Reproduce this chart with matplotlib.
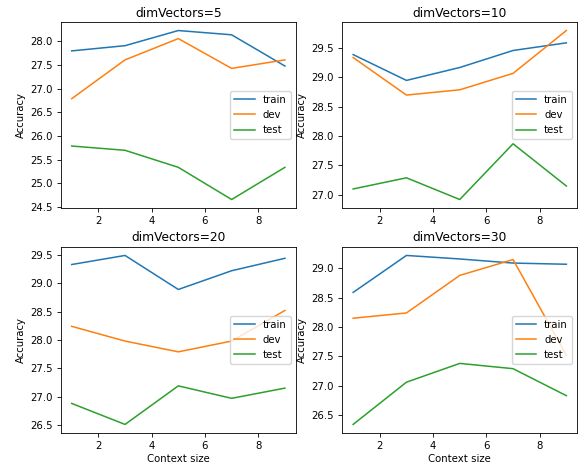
import matplotlib
matplotlib.use("Agg")
from matplotlib import pyplot as plt
from matplotlib.ticker import MultipleLocator, FormatStrFormatter

context_sizes = [1, 3, 5, 7, 9]
dim_vectors = [5, 10, 20, 30]

train_acc = [
    [27.80, 27.91, 28.23, 28.14, 27.48],
    [29.39, 28.95, 29.17, 29.46, 29.59],
    [29.33, 29.49, 28.89, 29.22, 29.44],
    [28.59, 29.22, 29.16, 29.09, 29.07],
]
dev_acc = [
    [26.79, 27.61, 28.06, 27.43, 27.61],
    [29.34, 28.70, 28.79, 29.07, 29.80],
    [28.24, 27.98, 27.79, 27.98, 28.52],
    [28.15, 28.24, 28.88, 29.15, 27.52],
]
test_acc = [
    [25.79, 25.70, 25.34, 24.66, 25.34],
    [27.10, 27.29, 26.92, 27.87, 27.15],
    [26.88, 26.51, 27.19, 26.97, 27.15],
    [26.34, 27.06, 27.38, 27.29, 26.83],
]

small = 7.3
plt.rcParams.update({
    "font.size": small,
    "axes.titlesize": 8.8,
    "axes.labelsize": small,
    "xtick.labelsize": small,
    "ytick.labelsize": small,
    "legend.fontsize": small,
    "xtick.major.size": 2.6,
    "ytick.major.size": 2.6,
    "xtick.major.width": 0.6,
    "ytick.major.width": 0.6,
    "axes.linewidth": 0.6,
    "lines.linewidth": 1.1,
})

fig, axes = plt.subplots(2, 2, figsize=(5.87, 4.7), dpi=100)
fig.subplots_adjust(left=0.104, right=0.983, top=0.953, bottom=0.079,
                    wspace=0.2, hspace=0.21)

for i, ax in enumerate(axes.flat):
    ax.plot(context_sizes, train_acc[i], label="train")
    ax.plot(context_sizes, dev_acc[i], label="dev")
    ax.plot(context_sizes, test_acc[i], label="test")
    ax.set_title("dimVectors=%d" % dim_vectors[i], pad=4)
    ax.set_ylabel("Accuracy", labelpad=3)
    if i >= 2:
        ax.set_xlabel("Context size", labelpad=2)
    ax.yaxis.set_major_locator(MultipleLocator(0.5))
    ax.yaxis.set_major_formatter(FormatStrFormatter("%.1f"))
    ax.set_xticks([2, 4, 6, 8])
    ax.legend(loc="center right")

plt.savefig("out.png")
